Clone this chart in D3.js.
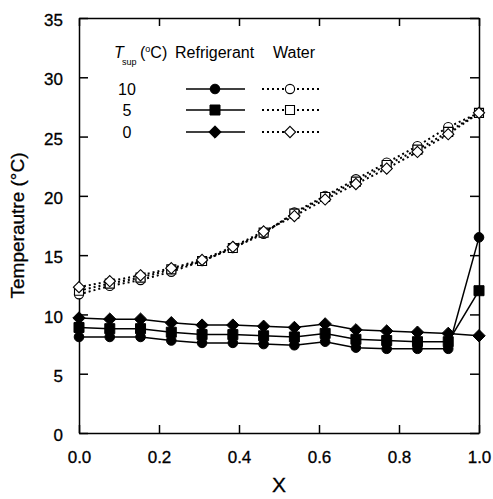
<!DOCTYPE html>
<html><head><meta charset="utf-8">
<script src="https://cdn.jsdelivr.net/npm/d3@7"></script>
<style>body{margin:0;background:#fff}svg{display:block}text{font-family:"Liberation Sans",Arial,sans-serif;fill:#000}</style>
</head><body><div id="chart"></div>
<script>
const xValues = [0, 1/13, 2/13, 3/13, 4/13, 5/13, 6/13, 7/13, 8/13, 9/13, 10/13, 11/13, 12/13, 1];
const refrig10 = [8.1, 8.1, 8.1, 7.8, 7.6, 7.6, 7.5, 7.4, 7.7, 7.2, 7.1, 7.1, 7.1, 16.5];
const refrig5  = [8.9, 8.8, 8.8, 8.5, 8.3, 8.3, 8.2, 8.1, 8.4, 7.9, 7.8, 7.7, 7.7, 12.0];
const refrig0  = [9.7, 9.6, 9.6, 9.3, 9.1, 9.1, 9.0, 8.9, 9.2, 8.7, 8.6, 8.5, 8.4, 8.2];
const water10 = [11.7, 12.4, 12.9, 13.6, 14.5, 15.6, 16.8, 18.6, 20.0, 21.4, 22.8, 24.2, 25.8, 27.0];
const water5  = [12.0, 12.6, 13.1, 13.8, 14.5, 15.6, 16.9, 18.5, 19.9, 21.2, 22.6, 23.9, 25.4, 27.0];
const water0  = [12.3, 12.8, 13.3, 13.9, 14.6, 15.7, 17.0, 18.3, 19.7, 21.0, 22.3, 23.7, 25.2, 27.0];
const supLabels = ["10", "5", "0"];
const xTicks = [0, 0.2, 0.4, 0.6, 0.8, 1.0];
const yTicks = [0, 5, 10, 15, 20, 25, 30, 35];

const W = 493, H = 499;
const m = {l: 79, r: 14, t: 18, b: 66};
const svg = d3.select("#chart").append("svg").attr("width", W).attr("height", H);
const x = d3.scaleLinear().domain([0, 1]).range([m.l, W - m.r]);
const y = d3.scaleLinear().domain([0, 35]).range([H - m.b, m.t]);

// axes (box with inward ticks)
const gx = svg.append("g").attr("transform", `translate(0,${y(0)})`)
  .call(d3.axisBottom(x).tickValues(xTicks).tickFormat(d3.format(".1f")).tickSizeInner(-8).tickSizeOuter(0).tickPadding(18));
const gxt = svg.append("g").attr("transform", `translate(0,${y(35)})`)
  .call(d3.axisTop(x).tickValues(xTicks).tickFormat("").tickSizeInner(-8).tickSizeOuter(0));
const gy = svg.append("g").attr("transform", `translate(${x(0)},0)`)
  .call(d3.axisLeft(y).tickValues(yTicks).tickSizeInner(-9).tickSizeOuter(0).tickPadding(16));
const gyr = svg.append("g").attr("transform", `translate(${x(1)},0)`)
  .call(d3.axisRight(y).tickValues(yTicks).tickFormat("").tickSizeInner(-9).tickSizeOuter(0));
[gx, gxt, gy, gyr].forEach(g => {
  g.selectAll("path.domain").attr("stroke", "#000").attr("stroke-width", 1.5);
  g.selectAll(".tick line").attr("stroke", "#000").attr("stroke-width", 1.5);
  g.selectAll(".tick text").style("font-size", "17px").style("font-family", "Liberation Sans, Arial, sans-serif")
    .attr("fill", "#000").attr("stroke", "#000").attr("stroke-width", 0.3);
});
gx.selectAll(".tick text").attr("dy", "0.71em");
gy.selectAll(".tick text").attr("dy", "0.45em");

svg.append("text").attr("x", x(0.5)).attr("y", 492).attr("text-anchor", "middle").style("font-size", "21px")
  .attr("stroke", "#000").attr("stroke-width", 0.3).text("X");
svg.append("text").attr("transform", `translate(24,${(y(0)+y(35))/2}) rotate(-90)`)
  .attr("text-anchor", "middle").style("font-size", "19px").attr("stroke", "#000").attr("stroke-width", 0.3).text("Temperautre (°C)");

const pts = arr => arr.map((v, i) => [xValues[i], v]);
const line = d3.line().x(d => x(d[0])).y(d => y(d[1]));

function markerPath(shape, filled) {
  if (shape === "circle") { const r = filled ? 4.8 : 4.6; return d3.symbol().type(d3.symbolCircle).size(Math.PI * r * r)(); }
  if (shape === "square") { const s = filled ? 5 : 4.5; return `M${-s},${-s}H${s}V${s}H${-s}Z`; }
  const d = filled ? 6.2 : 5.6; return `M0,${-d}L${d},0L0,${d}L${-d},0Z`;
}
function drawMarker(g, shape, cx, cy, filled) {
  g.append("path").attr("d", markerPath(shape, filled))
    .attr("transform", `translate(${cx},${cy})`)
    .attr("fill", filled ? "#000" : "#fff").attr("stroke", "#000").attr("stroke-width", filled ? 1 : 1.1);
}

const waterSeries = [[water10, "circle"], [water5, "square"], [water0, "diamond"]];
const refSeries = [[refrig10, "circle"], [refrig5, "square"], [refrig0, "diamond"]];

const plot = svg.append("g");
waterSeries.forEach(([vals]) => {
  plot.append("path").attr("d", line(pts(vals))).attr("fill", "none").attr("stroke", "#000")
    .attr("stroke-width", 2).attr("stroke-dasharray", "2,3");
});
refSeries.forEach(([vals]) => {
  plot.append("path").attr("d", line(pts(vals))).attr("fill", "none").attr("stroke", "#000").attr("stroke-width", 1.5);
});
waterSeries.forEach(([vals, shape]) => {
  pts(vals).forEach(p => drawMarker(plot, shape, x(p[0]), y(p[1]), false));
});
refSeries.forEach(([vals, shape]) => {
  pts(vals).forEach(p => drawMarker(plot, shape, x(p[0]), y(p[1]), true));
});

// legend
const lg = svg.append("g").attr("stroke", "none");
const hdrY = 58;
const th = lg.append("text").attr("y", hdrY).style("font-size", "16px");
th.append("tspan").attr("x", 114).style("font-style", "italic").text("T");
th.append("tspan").attr("x", 122).attr("dy", 7).style("font-size", "9px").text("sup");
th.append("tspan").attr("x", 140).attr("dy", -7).text("(");
th.append("tspan").attr("dy", -6).style("font-size", "9px").text("o");
th.append("tspan").attr("dy", 6).text("C)");
lg.append("text").attr("x", 175).attr("y", hdrY).style("font-size", "16px").text("Refrigerant");
lg.append("text").attr("x", 273).attr("y", hdrY).style("font-size", "16px").text("Water");
const rowY = [89, 110, 132];
supLabels.forEach((lab, i) => {
  const ry = rowY[i];
  const shape = refSeries[i][1];
  lg.append("text").attr("x", 127).attr("y", ry).attr("dy", "0.36em").attr("text-anchor", "middle").style("font-size", "16px").text(lab);
  lg.append("line").attr("x1", 186).attr("x2", 245).attr("y1", ry).attr("y2", ry).attr("stroke", "#000").attr("stroke-width", 1.5);
  drawMarker(lg, shape, 215, ry, true);
  lg.append("line").attr("x1", 262).attr("x2", 319).attr("y1", ry).attr("y2", ry).attr("stroke", "#000").attr("stroke-width", 2).attr("stroke-dasharray", "2,3");
  drawMarker(lg, shape, 290, ry, false);
});
</script></body></html>
